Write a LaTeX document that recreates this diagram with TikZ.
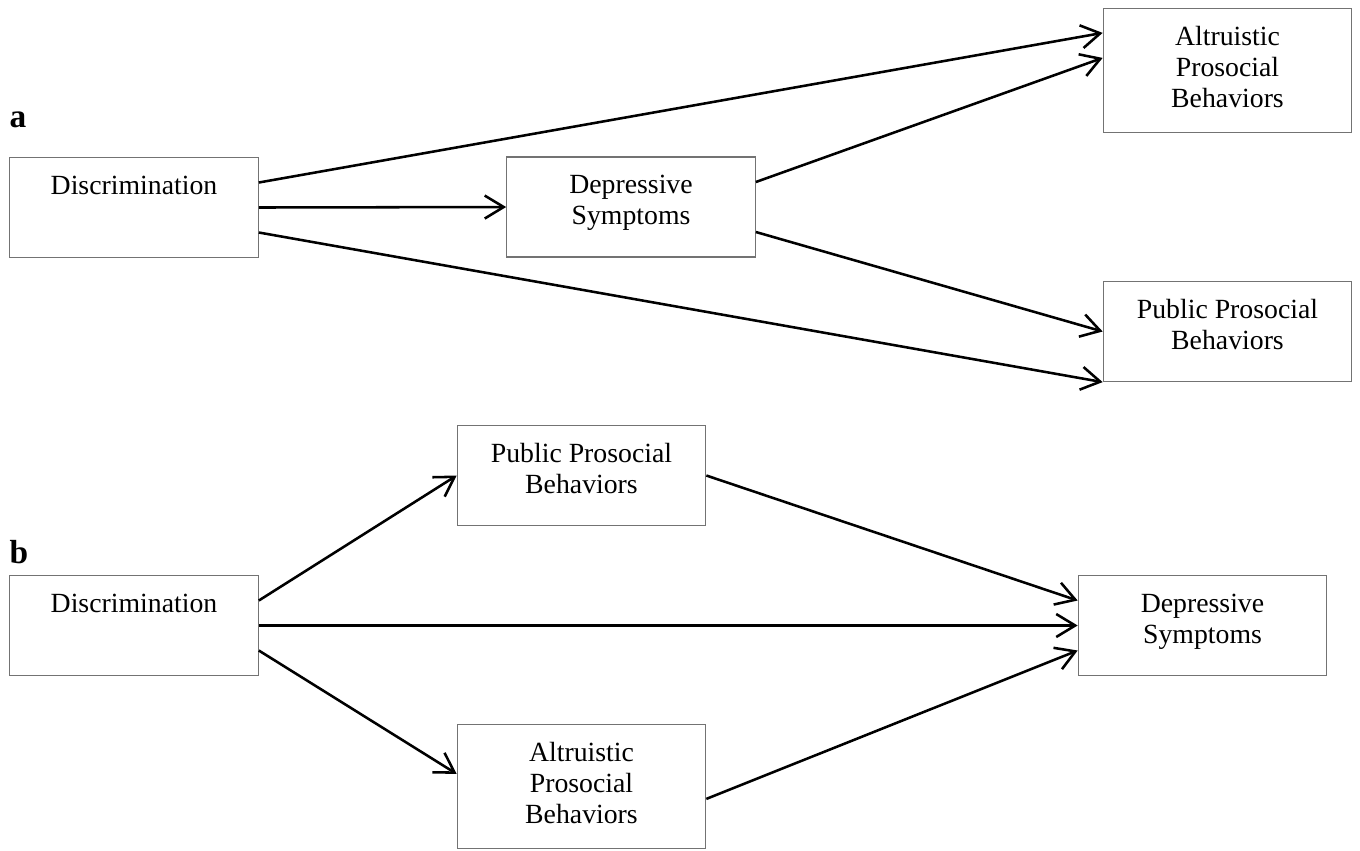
\documentclass[tikz,border=0pt]{standalone}
\usepackage{fontspec}
\setmainfont{Liberation Serif}
\usetikzlibrary{arrows.meta}
\begin{document}
\begin{tikzpicture}[x=0.02cm,y=-0.02cm,
    box/.style={draw=black!55, line width=.7pt, minimum width=4.97cm, minimum height=2cm, inner sep=0pt},
    tallbox/.style={box, minimum height=2.48cm},
    txt/.style={font=\fontsize{15.8}{17.6}\selectfont, align=center, anchor=north, inner sep=0pt},
    arr/.style={line width=1.45pt, -{Straight Barb[length=0.38cm,width=0.46cm]}},
    panel/.style={font=\fontsize{19}{19}\selectfont\bfseries}]
    \useasboundingbox (0,0) rectangle (1360,850);
    \node[panel] (pa) at (18,120) {a};
    \node[panel] (pb) at (19,552) {b};
    \node[box] (discA) at (134,207.5) {};
    \node[box] (depA) at (631,207) {};
    \node[tallbox] (altA) at (1227.5,70.5) {};
    \node[box] (pubA) at (1227.5,331.5) {};
    \node[box] (pubB) at (581.5,475.5) {};
    \node[box] (discB) at (134,625.5) {};
    \node[box] (depB) at (1202.5,625.5) {};
    \node[tallbox] (altB) at (581.5,786.5) {};
    \node[txt] (discAt) at ([yshift=-0.31cm]discA.north) {\strut Discrimination};
    \node[txt] (depAt) at ([yshift=-0.31cm]depA.north) {\strut Depressive\\Symptoms};
    \node[txt] (altAt) at ([yshift=-0.31cm]altA.north) {\strut Altruistic\\Prosocial\\Behaviors};
    \node[txt] (pubAt) at ([yshift=-0.31cm]pubA.north) {\strut Public Prosocial\\Behaviors};
    \node[txt] (pubBt) at ([yshift=-0.31cm]pubB.north) {\strut Public Prosocial\\Behaviors};
    \node[txt] (discBt) at ([yshift=-0.31cm]discB.north) {\strut Discrimination};
    \node[txt] (depBt) at ([yshift=-0.31cm]depB.north) {\strut Depressive\\Symptoms};
    \node[txt] (altBt) at ([yshift=-0.31cm]altB.north) {\strut Altruistic\\Prosocial\\Behaviors};
    \draw[arr] ([yshift=0.5cm]discA.east) -- ([yshift=-0.5cm]altA.north west);
    \draw[arr] (discA.east) -- (depA.west);
    \draw[arr] ([yshift=-0.5cm]discA.east) -- (pubA.south west);
    \draw[arr] ([yshift=0.5cm]depA.east) -- ([yshift=-1cm]altA.north west);
    \draw[arr] ([yshift=-0.5cm]depA.east) -- (pubA.west);
    \draw[arr] ([yshift=0.5cm]discB.east) -- (pubB.west);
    \draw[arr] (discB.east) -- (depB.west);
    \draw[arr] ([yshift=-0.5cm]discB.east) -- ([yshift=-1cm]altB.north west);
    \draw[arr] (pubB.east) -- ([yshift=0.5cm]depB.west);
    \draw[arr] ([yshift=-1.5cm]altB.north east) -- ([yshift=-0.5cm]depB.west);
\end{tikzpicture}
\end{document}
